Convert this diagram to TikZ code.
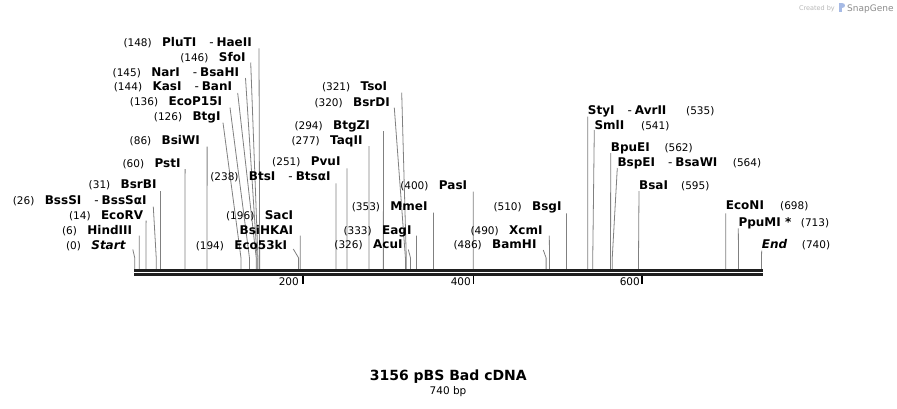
\documentclass[tikz,border=0pt]{standalone}
\usepackage{fontspec}
\setmainfont{DejaVu Sans}
\usetikzlibrary{calc}
\tikzset{
  nm/.style={inner sep=0pt, font=\fontsize{12}{14}\selectfont\bfseries},
  num/.style={inner sep=0pt, font=\fontsize{10.5}{12}\selectfont},
  cutline/.style={draw=black!50, line width=0.8pt},
  bb/.style={fill=black!88},
  tickmark/.style={draw=black, line width=1.6pt}
}
\newcommand\dsh{\hspace{13pt}{\mdseries -}\hspace{3pt}}
% left-type label: id, number, name, right x, baseline, line top x, line top y, site
\newcommand\cutL[8]{%
  \node[nm, anchor=base east] (#1) at (#4,#5) {#3};
  \node[num, anchor=base east] (#1n) at ([xshift=-10pt]#1.base west) {(#2)};
  \coordinate (#1t) at (#6,#7);
  \coordinate (#1s) at ({134.2+0.8476*#8},269);
  \draw[cutline] (#1t) -- ({134.2+0.8476*#8},258) -- (#1s);
}
% right-type label: id, number, name, left x, baseline, number x, line top y, site
\newcommand\cutR[8]{%
  \node[nm, anchor=base west] (#1) at (#4,#5) {#3};
  \node[num, anchor=base west] (#1n) at (#6,#5) {(#2)};
  \coordinate (#1t) at (#4,#7);
  \coordinate (#1s) at ({134.2+0.8476*#8},269);
  \draw[cutline] (#1t) -- ({134.2+0.8476*#8},258) -- (#1s);
}
\begin{document}
\begin{tikzpicture}[x=1pt,y=-1pt]
\useasboundingbox (0,0) rectangle (897,408);
\fill[white] (0,0) rectangle (897,408);

% watermark
\node[inner sep=0pt, font=\fontsize{6.5}{7}\selectfont, text=black!28, anchor=base east] (created) at (835,10) {Created by};
\fill[cyan!45!blue!35] (839,3) rectangle (842,12);
\fill[cyan!45!blue!35] (842,3) .. controls (846,3) and (846,8) .. (842,8) -- cycle;
\node[inner sep=0pt, font=\fontsize{9}{10}\selectfont, text=black!45, anchor=base west] (snapgene) at (847,11) {SnapGene};

% lines first (drawn by macros together with labels)
\cutL{pluti}{148}{PluTI\dsh HaeII}{252}{46.7}{259}{48.3}{148}
\cutL{sfoi}{146}{SfoI}{245.7}{61.7}{250.7}{62.5}{146}
\cutL{nari}{145}{NarI\dsh BsaHI}{239.3}{76.3}{245.5}{78}{145}
\cutL{kasi}{144}{KasI\dsh BanI}{232.3}{90.7}{237.7}{93}{144}
\cutL{ecop}{136}{EcoP15I}{222.3}{105}{230}{107.5}{136}
\cutL{btgi}{126}{BtgI}{220.7}{120}{223}{122.7}{126}
\cutL{bsiwi}{86}{BsiWI}{200}{144}{207.1}{146.7}{86}
\cutL{psti}{60}{PstI}{180.7}{167.3}{185.1}{169}{60}
\cutL{bsrbi}{31}{BsrBI}{156.7}{188.3}{160.5}{191}{31}
\cutL{bsssi}{26}{BssSI\dsh BssSαI}{146.7}{204}{153.3}{206.7}{26}
\cutL{ecorv}{14}{EcoRV}{143.3}{219.7}{146.1}{220.7}{14}
\cutL{hind}{6}{HindIII}{132.3}{234}{139.3}{235.7}{6}
\cutL{start}{0}{\itshape Start}{125.7}{249}{132.8}{249.5}{0.7}
\cutL{btsi}{238}{BtsI\dsh BtsαI}{330.7}{180.7}{335.9}{183.3}{238}
\cutL{pvui}{251}{PvuI}{340.7}{165.7}{346.9}{168.3}{251}
\cutL{taqii}{277}{TaqII}{362.7}{144.3}{369}{146}{277}
\cutL{btgzi}{294}{BtgZI}{370}{129}{383.4}{131}{294}
\cutL{bsrdi}{320}{BsrDI}{390}{106.3}{394.3}{107.7}{320}
\cutL{tsoi}{321}{TsoI}{387.3}{90.7}{401.7}{92.7}{321}
\cutL{eco53}{194}{Eco53kI}{287.3}{249}{293.3}{249}{194}
\cutL{pasi}{400}{PasI}{467.3}{189.7}{473.2}{191.7}{400}
\cutL{mmei}{353}{MmeI}{427.7}{210.7}{433.4}{212.7}{353}
\cutL{eagi}{333}{EagI}{411.7}{234}{416.5}{235.7}{333}
\cutL{acui}{326}{AcuI}{402.7}{248.3}{408.3}{249.5}{326}
\cutL{bsgi}{510}{BsgI}{561.7}{210.7}{566.5}{213.3}{510}
\cutL{xcmi}{490}{XcmI}{542.7}{234}{549.3}{235.7}{490}
\cutL{bamhi}{486}{BamHI}{536.7}{248.3}{543.3}{250}{486}

% SacI / BsiHKAI share one site
\node[nm, anchor=base east] (saci) at (293.3,219.7) {SacI};
\node[num, anchor=base east] (sacin) at ([xshift=-10pt]saci.base west) {(196)};
\node[nm, anchor=base east] (bsihkai) at (293.3,234) {BsiHKAI};
\coordinate (bsihkait) at (300.3,235.7);
\coordinate (bsihkais) at ({134.2+0.8476*196},269);
\draw[cutline] (bsihkait) -- (bsihkais);

\cutR{styi}{535}{StyI\dsh AvrII}{587.7}{114}{686}{116.7}{535}
\cutR{smli}{541}{SmlI}{594.3}{129}{641}{130}{541}
\cutR{bpuei}{562}{BpuEI}{610.7}{151.3}{664.3}{153}{562}
\cutR{bspei}{564}{BspEI\dsh BsaWI}{617.3}{166.3}{732.7}{168}{564}
\cutR{bsai}{595}{BsaI}{639}{189.7}{681}{191}{595}
\cutR{econi}{698}{EcoNI}{725.7}{209.7}{780}{213.3}{698}
\cutR{ppumi}{713}{PpuMI *}{738.3}{226.3}{800.7}{228.3}{713}
\cutR{endl}{740}{\itshape End}{761.7}{248}{801.7}{250.7}{740}

% backbone
\fill[bb] (134,269) rectangle (762.7,271.8);
\fill[bb] (134,272.8) rectangle (762.7,275.8);

% ruler ticks
\coordinate (k200t) at (302.7,276); \coordinate (k200b) at (302.7,283.5);
\coordinate (k400t) at (473.3,276); \coordinate (k400b) at (473.3,283.5);
\coordinate (k600t) at (641.7,276); \coordinate (k600b) at (641.7,283.5);
\draw[tickmark] (k200t) -- (k200b);
\draw[tickmark] (k400t) -- (k400b);
\draw[tickmark] (k600t) -- (k600b);
\node[num, anchor=base east] (t200) at (299,285.5) {200};
\node[num, anchor=base east] (t400) at (471,285.5) {400};
\node[num, anchor=base east] (t600) at (640,285.5) {600};

% title
\node[inner sep=0pt, font=\fontsize{14}{16}\selectfont\bfseries] (title) at (448.3,377) {3156 pBS Bad cDNA};
\node[inner sep=0pt, font=\fontsize{10.5}{12}\selectfont] (size) at (448,391.5) {740 bp};
\end{tikzpicture}
\end{document}
